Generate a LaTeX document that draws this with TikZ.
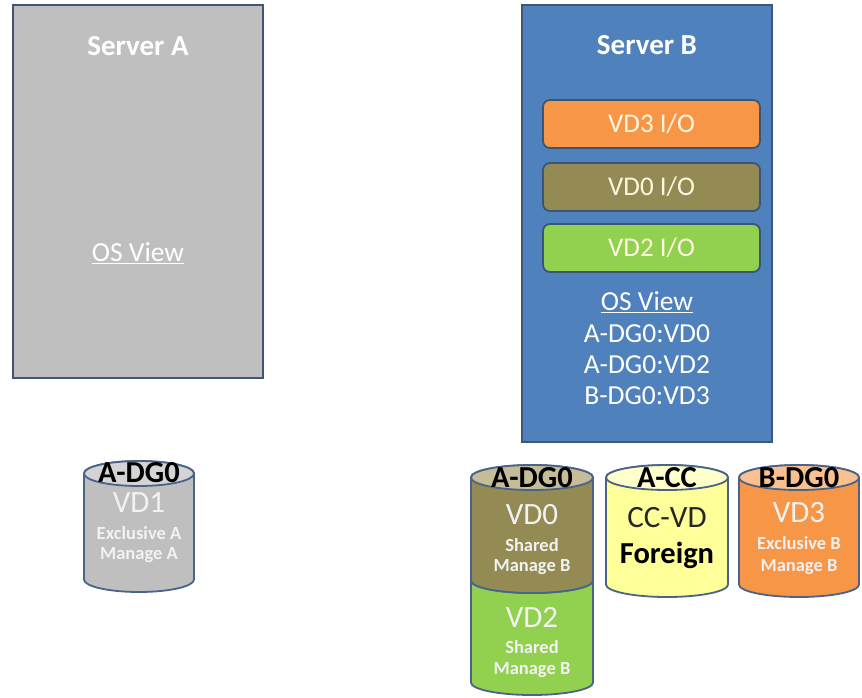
\documentclass[tikz,border=0pt]{standalone}
\usepackage{fontspec}
\setmainfont{Carlito}

\definecolor{srvgray}{HTML}{BFBFBF}
\definecolor{srvblue}{HTML}{4F81BD}
\definecolor{srvline}{HTML}{3F5679}
\definecolor{barline}{HTML}{3A5676}
\definecolor{ioorange}{HTML}{F79646}
\definecolor{ioolive}{HTML}{948A54}
\definecolor{iogreen}{HTML}{92D050}
\definecolor{iotext}{HTML}{FFF6E0}
\definecolor{diskline}{HTML}{4A6388}
\definecolor{graytop}{HTML}{D4D4D4}
\definecolor{olivetop}{HTML}{C4BD97}
\definecolor{ccbody}{HTML}{FFFF99}
\definecolor{cctop}{HTML}{FFFFCC}
\definecolor{orangetop}{HTML}{FAC090}
\definecolor{disktext}{HTML}{F2F2F2}

\tikzset{
  server/.style={draw=srvline, line width=2pt, minimum width=250pt, inner sep=0pt},
  iobar/.style={draw=barline, line width=1.8pt, rounded corners=7pt, minimum width=217pt, minimum height=48pt, text=iotext, font=\fontsize{27}{31}\selectfont},
  srvtitle/.style={text=white, font=\fontsize{29}{34}\selectfont\bfseries},
  srvtext/.style={text=white, align=center, font=\fontsize{27.5}{31}\selectfont},
  diskedge/.style={draw=diskline, line width=1.8pt},
  dglabel/.style={font=\fontsize{30.5}{33}\selectfont\bfseries},
  vdlabel/.style={text=disktext, font=\fontsize{31}{34}\selectfont},
  vdnote/.style={text=disktext, font=\fontsize{18.5}{21}\selectfont\bfseries}
}

% \drum{x}{top}{bottom}{half width}{body colour}{top colour}
\newcommand{\drum}[6]{%
  \filldraw[diskedge, fill=#5] ({#1-#4},{#2+12.5}) -- ({#1-#4},{#3-12.5})
    arc[start angle=180, end angle=0, x radius=#4, y radius=12.5]
    -- ({#1+#4},{#2+12.5}) arc[start angle=0, end angle=-180, x radius=#4, y radius=12.5] -- cycle;
  \filldraw[diskedge, fill=#6] (#1,{#2+12.5}) ellipse[x radius=#4, y radius=12.5];
}

\begin{document}
\begin{tikzpicture}[x=1pt, y=-1pt]
  \useasboundingbox (0,0) rectangle (862,697);
  \node[server, fill=srvgray, minimum height=373pt] (srvA) at (138,191.5) {};
  \node[srvtitle] (srvAname) at (138,46) {Server A};
  \node[srvtext] (srvAview) at (138,253) {\underline{OS View}};

  \node[server, fill=srvblue, minimum height=437pt] (srvB) at (647,223.5) {};
  \node[srvtitle] (srvBname) at (647,45) {Server B};
  \node[iobar, fill=ioorange] (io3) at (651.5,124) {VD3 I/O};
  \node[iobar, fill=ioolive] (io0) at (651.5,187) {VD0 I/O};
  \node[iobar, fill=iogreen] (io2) at (651.5,248) {VD2 I/O};
  \node[srvtext] (srvBview) at (647,302) {\underline{OS View}};
  \node[srvtext, anchor=north] (srvBlist) at (647,321) {A-DG0:VD0\\A-DG0:VD2\\B-DG0:VD3};

  \drum{139}{461}{592}{55}{srvgray}{graytop}
  \node[dglabel] (dgAname) at (139,473) {A-DG0};
  \node[vdlabel] (vd1name) at (139,503) {VD1};
  \node[vdnote] (vd1use) at (139,533) {Exclusive A};
  \node[vdnote] (vd1mgr) at (139,555) {Manage A};

  \drum{532}{568}{695}{61}{iogreen}{iogreen}
  \drum{532}{465}{593}{61}{ioolive}{olivetop}
  \node[dglabel] (dgAname2) at (532,478) {A-DG0};
  \node[vdlabel] (vd0name) at (532,515) {VD0};
  \node[vdnote] (vd0use) at (532,545) {Shared};
  \node[vdnote] (vd0mgr) at (532,567) {Manage B};
  \node[vdlabel] (vd2name) at (532,617) {VD2};
  \node[vdnote] (vd2use) at (532,647) {Shared};
  \node[vdnote] (vd2mgr) at (532,670) {Manage B};

  \drum{667}{465}{597}{61}{ccbody}{cctop}
  \node[dglabel] (ccname) at (667,478) {A-CC};
  \node[vdlabel, text=black!85] (ccvd) at (667,518) {CC-VD};
  \node[dglabel] (ccuse) at (667,555) {Foreign};

  \drum{799}{465}{597}{60}{ioorange}{orangetop}
  \node[dglabel] (dgBname) at (799,478) {B-DG0};
  \node[vdlabel] (vd3name) at (799,513) {VD3};
  \node[vdnote] (vd3use) at (799,543) {Exclusive B};
  \node[vdnote] (vd3mgr) at (799,567) {Manage B};
\end{tikzpicture}
\end{document}
